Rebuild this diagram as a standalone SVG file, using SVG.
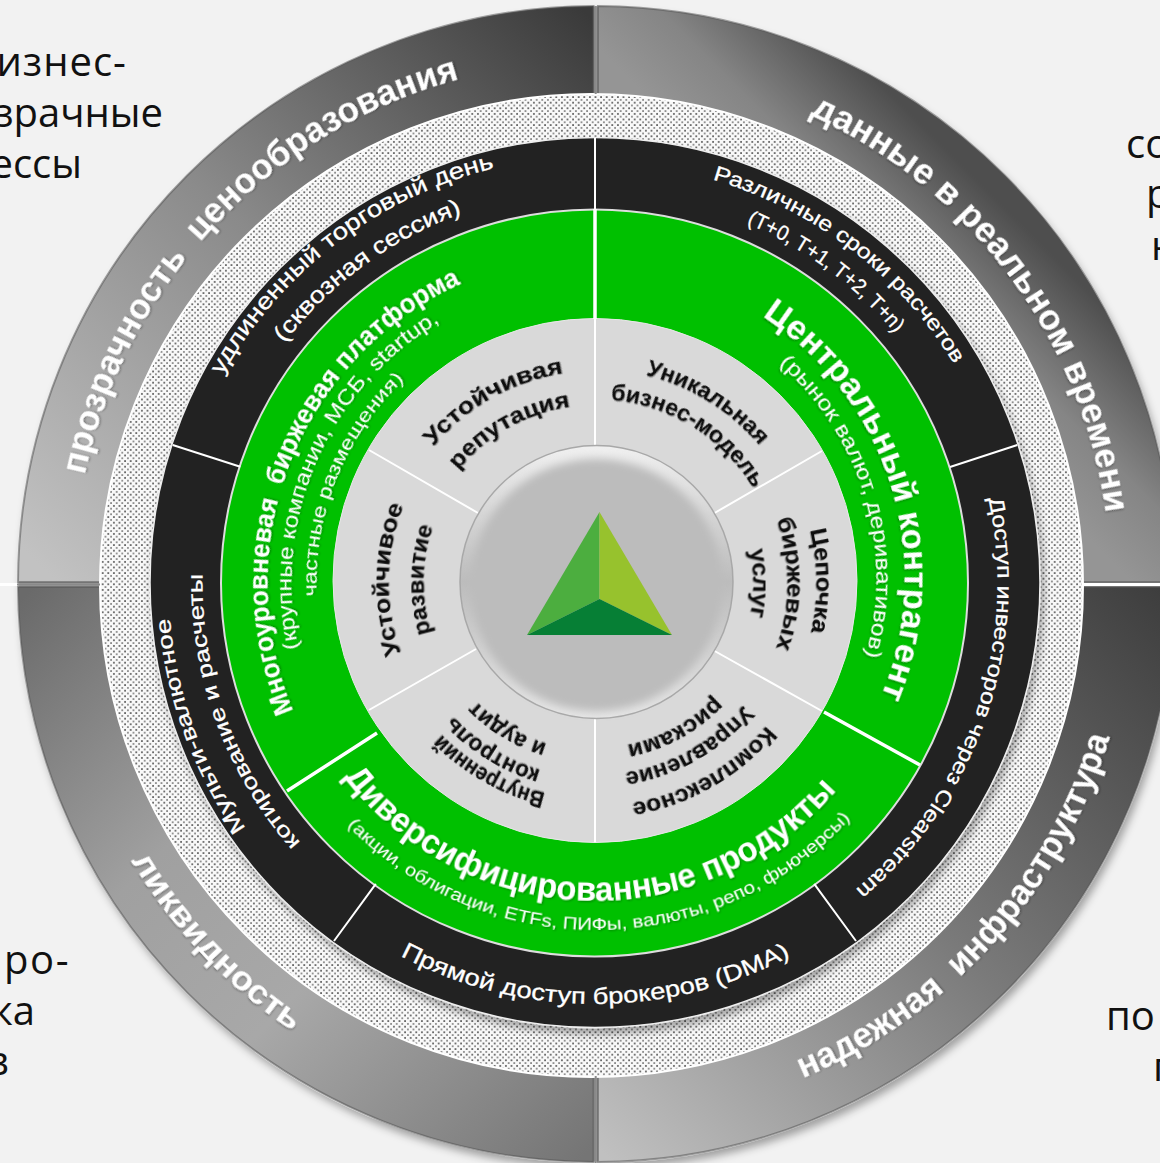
<svg xmlns="http://www.w3.org/2000/svg" width="1160" height="1163" viewBox="0 0 1160 1163">
<style>
text{font-family:"Liberation Sans",Arial,sans-serif;text-anchor:middle}
.bg{font-family:"Open Sans","Noto Sans",sans-serif;font-size:40px;fill:#111}
.e{text-anchor:end}.s{text-anchor:start}
.o{font-weight:700;font-size:35.5px;fill:#fff;filter:url(#ts)}
.k{font-size:23px;fill:#fff;stroke:#fff;stroke-width:.3}
.k2{font-size:21px}
.g1{font-weight:700;font-size:27px;fill:#fff;filter:url(#ts)}
.g2{font-size:21px;fill:#fff;filter:url(#ts)}
.g3{font-weight:700;font-size:34px;fill:#fff;filter:url(#ts)}
.g4{font-size:17.5px;fill:#fff;filter:url(#ts)}
.i{font-weight:700;font-size:23px;fill:#111;filter:url(#ts2)}
.dv{stroke:#fff;fill:none}
</style>
<defs>
<filter id="ts" x="-10%" y="-10%" width="120%" height="120%"><feDropShadow dx="1" dy="1" stdDeviation=".8" flood-color="#000" flood-opacity=".35"/></filter>
<filter id="ts2" x="-10%" y="-10%" width="120%" height="120%"><feDropShadow dx="1" dy="1" stdDeviation=".7" flood-color="#000" flood-opacity=".3"/></filter>
<filter id="sh" x="-10%" y="-10%" width="120%" height="120%"><feDropShadow dx="3" dy="6" stdDeviation="4" flood-color="#000" flood-opacity=".35"/></filter>
<filter id="bl" x="-10%" y="-10%" width="120%" height="120%"><feGaussianBlur stdDeviation="4"/></filter>
<pattern id="dots" width="5.6" height="5.6" patternUnits="userSpaceOnUse"><rect width="5.6" height="5.6" fill="#f9f9f9"/><rect x="1" y="1" width="1.8" height="1.8" fill="#666"/><rect x="3.8" y="3.8" width="1.8" height="1.8" fill="#8a8a8a"/></pattern>
<linearGradient id="qtl" gradientUnits="userSpaceOnUse" x1="60" y1="584" x2="594" y2="20"><stop offset="0" stop-color="#c2c2c2"/><stop offset=".5" stop-color="#8a8a8a"/><stop offset="1" stop-color="#3a3a3a"/></linearGradient>
<linearGradient id="qtr" gradientUnits="userSpaceOnUse" x1="800" y1="250" x2="1000" y2="50"><stop offset="0" stop-color="#959595"/><stop offset=".25" stop-color="#858585"/><stop offset=".62" stop-color="#4e4e4e"/></linearGradient>
<linearGradient id="qbr" gradientUnits="userSpaceOnUse" x1="1160" y1="590" x2="600" y2="1150"><stop offset="0" stop-color="#3e3e3e"/><stop offset=".5" stop-color="#7a7a7a"/><stop offset="1" stop-color="#c0c0c0"/></linearGradient>
<linearGradient id="qbl" gradientUnits="userSpaceOnUse" x1="30" y1="590" x2="590" y2="1150"><stop offset="0" stop-color="#6a6a6a"/><stop offset=".35" stop-color="#a0a0a0"/><stop offset=".6" stop-color="#a8a8a8"/><stop offset="1" stop-color="#757575"/></linearGradient>
<linearGradient id="hub" x1="0" y1="0" x2="0" y2="1"><stop offset="0" stop-color="#f0f0f0"/><stop offset=".5" stop-color="#bcbcbc"/><stop offset="1" stop-color="#e6e6e6"/></linearGradient>
<path id="u522" d="M73.5 583A522 522 0 0 1 1117.5 583"/>
<path id="u515" d="M80.5 583A515 515 0 0 1 1110.5 583"/>
<path id="u427" d="M168.5 583A427 427 0 0 1 1022.5 583"/>
<path id="u420" d="M175.5 583A420 420 0 0 1 1015.5 583"/>
<path id="u402" d="M193.5 583A402 402 0 0 1 997.5 583"/>
<path id="u393" d="M202.5 583A393 393 0 0 1 988.5 583"/>
<path id="u390" d="M205.5 583A390 390 0 0 1 985.5 583"/>
<path id="u328" d="M267.5 583A328 328 0 0 1 923.5 583"/>
<path id="u312" d="M283.5 583A312 312 0 0 1 907.5 583"/>
<path id="u304" d="M291.5 583A304 304 0 0 1 899.5 583"/>
<path id="u284" d="M311.5 583A284 284 0 0 1 879.5 583"/>
<path id="u279" d="M316.5 583A279 279 0 0 1 874.5 583"/>
<path id="u223" d="M372.5 583A223 223 0 0 1 818.5 583"/>
<path id="u221" d="M374.5 583A221 221 0 0 1 816.5 583"/>
<path id="u216" d="M379.5 583A216 216 0 0 1 811.5 583"/>
<path id="u214" d="M381.5 583A214 214 0 0 1 809.5 583"/>
<path id="u212" d="M383.5 583A212 212 0 0 1 807.5 583"/>
<path id="u207" d="M388.5 583A207 207 0 0 1 802.5 583"/>
<path id="u195" d="M400.5 583A195 195 0 0 1 790.5 583"/>
<path id="u192" d="M403.5 583A192 192 0 0 1 787.5 583"/>
<path id="u184" d="M411.5 583A184 184 0 0 1 779.5 583"/>
<path id="u178" d="M417.5 583A178 178 0 0 1 773.5 583"/>
<path id="u172" d="M423.5 583A172 172 0 0 1 767.5 583"/>
<path id="u168" d="M427.5 583A168 168 0 0 1 763.5 583"/>
<path id="u165" d="M430.5 583A165 165 0 0 1 760.5 583"/>
<path id="u158" d="M437.5 583A158 158 0 0 1 753.5 583"/>
<path id="d541" d="M54.5 583A541 541 0 0 0 1136.5 583"/>
<path id="d537" d="M58.5 583A537 537 0 0 0 1132.5 583"/>
<path id="d421" d="M174.5 583A421 421 0 0 0 1016.5 583"/>
<path id="d347" d="M248.5 583A347 347 0 0 0 942.5 583"/>
<path id="d318" d="M277.5 583A318 318 0 0 0 913.5 583"/>
</defs>

<rect width="1160" height="1163" fill="#f2f2f2"/>

<g id="backdrop-text">
<text class="bg e" x="127" y="76" letter-spacing="1">изнес-</text>
<text class="bg e" x="163" y="127">зрачные</text>
<text class="bg e" x="82" y="178">ессы</text>
<text class="bg s" x="1126" y="158">со</text>
<text class="bg s" x="1146" y="208">р</text>
<text class="bg s" x="1151" y="260">н</text>
<text class="bg e" x="70" y="974" letter-spacing="1.5">ро-</text>
<text class="bg e" x="35" y="1025">ка</text>
<text class="bg e" x="9" y="1075">в</text>
<text class="bg s" x="1106" y="1030">по</text>
<text class="bg s" x="1153" y="1081">п</text>
</g>

<circle cx="596" cy="584" r="578" fill="#9a9a9a" filter="url(#sh)"/>
<circle cx="596" cy="584" r="578.5" fill="none" stroke="#eee" stroke-width="1.5"/>

<g id="q-transparency">
<path d="M18 582A578 578 0 0 1 593.5 6L593.5 104A480 480 0 0 0 116 582Z" fill="url(#qtl)" stroke="#555" stroke-opacity=".55" stroke-width="2"/>
<text class="o" transform="rotate(-46.6 595.5 583)"><textPath href="#u522" startOffset="50%" textLength="574" lengthAdjust="spacingAndGlyphs">прозрачность&#160; ценообразования</textPath></text>
</g>
<g id="q-realtime">
<path d="M598 6A578 578 0 0 1 1174 582L1076 582A480 480 0 0 0 598 104Z" fill="url(#qtr)" stroke="#555" stroke-opacity=".55" stroke-width="2"/>
<text class="o" transform="rotate(53.4 595.5 583)"><textPath href="#u515" startOffset="50%" textLength="518" lengthAdjust="spacingAndGlyphs">данные в реальном времени</textPath></text>
</g>
<g id="q-infra">
<path d="M1174 587A578 578 0 0 1 598 1162L598 1064A480 480 0 0 0 1076 587Z" fill="url(#qbr)" stroke="#555" stroke-opacity=".55" stroke-width="2"/>
<text class="o" transform="rotate(-48 595.5 583)"><textPath href="#d537" startOffset="50%" textLength="474" lengthAdjust="spacingAndGlyphs">надежная&#160; инфраструктура</textPath></text>
</g>
<g id="q-liquidity">
<path d="M593.5 1162A578 578 0 0 1 18 587L116 587A480 480 0 0 0 593.5 1064Z" fill="url(#qbl)" stroke="#555" stroke-opacity=".55" stroke-width="2"/>
<text class="o" style="font-size:33px" transform="rotate(46.6 595.5 583)"><textPath href="#d541" startOffset="50%" textLength="237" lengthAdjust="spacingAndGlyphs">ликвидность</textPath></text>
</g>

<g id="rings">
<circle cx="591.5" cy="585.5" r="491.5" fill="url(#dots)" stroke="#fff" stroke-width="2"/>
<circle cx="595" cy="582.5" r="445" fill="#232323" stroke="#eee" stroke-width="1.5" filter="url(#sh)"/>
<circle cx="594.5" cy="583" r="373.5" fill="#00c000" stroke="#ddd" stroke-width="2"/>
<circle cx="595" cy="580.5" r="262" fill="#d9d9d9" stroke="#e8e8e8" stroke-width="1"/>
</g>

<g id="connectors">
<path class="dv" stroke-width="2" d="M595 446V319M712.8 514L821.9 451M712.8 650L821.9 711M595 718V842M476 649L369 710M478 513L369 450"/>
<path class="dv" stroke-width="3.5" d="M595 319V209M824 712L920 765M377 733L287 791"/>
<path class="dv" stroke-width="2" d="M595 209V138M950 467L1017.3 445M814.2 883.8L856 941M375.8 883.8L334 941M240.3 466.7L172.7 445"/>
<path class="dv" stroke-width="3" d="M1083 584.5H1160M0 584.5H17"/>
<path stroke="#8a8a8a" stroke-width="2" d="M100 584.5H17M595.7 6V94M595.7 1076V1163" fill="none"/>
</g>

<g id="b-day">
<text class="k" transform="rotate(-37.3 595.5 583)"><textPath href="#u427" startOffset="50%" textLength="352" lengthAdjust="spacingAndGlyphs">удлиненный торговый день</textPath></text>
<text class="k" transform="rotate(-36.1 595.5 583)"><textPath href="#u393" startOffset="50%" textLength="223" lengthAdjust="spacingAndGlyphs">(сквозная сессия)</textPath></text>
</g>
<g id="b-settle">
<text class="k k2" transform="rotate(37.4 595.5 583)"><textPath href="#u420" startOffset="50%" textLength="311" lengthAdjust="spacingAndGlyphs">Различные сроки расчетов</textPath></text>
<text class="k k2" transform="rotate(36.5 595.5 583)"><textPath href="#u390" startOffset="50%" textLength="187" lengthAdjust="spacingAndGlyphs">(T+0, T+1, T+2, T+n)</textPath></text>
</g>
<g id="b-clear">
<text class="k k2" transform="rotate(108.8 595.5 583)"><textPath href="#u402" startOffset="50%" textLength="434" lengthAdjust="spacingAndGlyphs">Доступ инвесторов через Clearstream</textPath></text>
</g>
<g id="b-dma">
<text class="k" transform="rotate(0 595.5 583)"><textPath href="#d421" startOffset="50%" textLength="406" lengthAdjust="spacingAndGlyphs">Прямой доступ брокеров (DMA)</textPath></text>
</g>
<g id="b-quote">
<text class="k k2" transform="rotate(-109.9 595.5 583)"><textPath href="#u427" startOffset="50%" textLength="226" lengthAdjust="spacingAndGlyphs">Мульти-валютное</textPath></text>
<text class="k k2" transform="rotate(-110 595.5 583)"><textPath href="#u393" startOffset="50%" textLength="293" lengthAdjust="spacingAndGlyphs">котирование и расчеты</textPath></text>
</g>

<g id="g-platform">
<text class="g1" transform="rotate(-68.6 595.5 583)"><textPath href="#u328" startOffset="50%" textLength="508" lengthAdjust="spacingAndGlyphs">Многоуровневая&#160; биржевая платформа</textPath></text>
<text class="g2" transform="rotate(-66.6 595.5 583)"><textPath href="#u304" startOffset="50%" textLength="380" lengthAdjust="spacingAndGlyphs">(крупные компании, МСБ, startup,</textPath></text>
<text class="g2" style="font-size:19px" transform="rotate(-68 595.5 583)"><textPath href="#u279" startOffset="50%" textLength="241" lengthAdjust="spacingAndGlyphs">частные размещения)</textPath></text>
</g>
<g id="g-ccp" transform="translate(-3 -5)">
<text class="g3" transform="rotate(72.6 595.5 583)"><textPath href="#u312" startOffset="50%" textLength="432" lengthAdjust="spacingAndGlyphs">Центральный контрагент</textPath></text>
<text class="g2" transform="rotate(73.5 595.5 583)"><textPath href="#u284" startOffset="50%" textLength="322" lengthAdjust="spacingAndGlyphs">(рынок валют, деривативов)</textPath></text>
</g>
<g id="g-products">
<text class="g3" transform="rotate(1.5 595.5 583)"><textPath href="#d318" startOffset="50%" textLength="564" lengthAdjust="spacingAndGlyphs">Диверсифицированные продукты</textPath></text>
<text class="g4" transform="rotate(-.8 595.5 583)"><textPath href="#d347" startOffset="50%" textLength="563" lengthAdjust="spacingAndGlyphs">(акции, облигации, ETFs, ПИФы, валюты, репо, фьючерсы)</textPath></text>
</g>

<g id="i-reputation">
<text class="i" transform="rotate(-29.4 595.5 583)"><textPath href="#u212" startOffset="50%" textLength="153" lengthAdjust="spacingAndGlyphs">Устойчивая</textPath></text>
<text class="i" transform="rotate(-29.4 595.5 583)"><textPath href="#u178" startOffset="50%" textLength="132" lengthAdjust="spacingAndGlyphs">репутация</textPath></text>
</g>
<g id="i-model">
<text class="i" transform="rotate(31.8 595.5 583)"><textPath href="#u214" startOffset="50%" textLength="136" lengthAdjust="spacingAndGlyphs">Уникальная</textPath></text>
<text class="i" transform="rotate(31.9 595.5 583)"><textPath href="#u184" startOffset="50%" textLength="175" lengthAdjust="spacingAndGlyphs">бизнес-модель</textPath></text>
</g>
<g id="i-chain">
<text class="i" transform="rotate(89.4 595.5 583)"><textPath href="#u221" startOffset="50%" textLength="103" lengthAdjust="spacingAndGlyphs">Цепочка</textPath></text>
<text class="i" transform="rotate(90.2 595.5 583)"><textPath href="#u192" startOffset="50%" textLength="131" lengthAdjust="spacingAndGlyphs">биржевых</textPath></text>
<text class="i" transform="rotate(90 595.5 583)"><textPath href="#u158" startOffset="50%" textLength="67" lengthAdjust="spacingAndGlyphs">услуг</textPath></text>
</g>
<g id="i-risk">
<text class="i" transform="rotate(150.2 595.5 583)"><textPath href="#u223" startOffset="50%" textLength="159" lengthAdjust="spacingAndGlyphs">Комплексное</textPath></text>
<text class="i" transform="rotate(150.3 595.5 583)"><textPath href="#u192" startOffset="50%" textLength="140" lengthAdjust="spacingAndGlyphs">Управление</textPath></text>
<text class="i" transform="rotate(151.3 595.5 583)"><textPath href="#u165" startOffset="50%" textLength="102" lengthAdjust="spacingAndGlyphs">рисками</textPath></text>
</g>
<g id="i-audit">
<text class="i" transform="rotate(209.4 595.5 583)"><textPath href="#u216" startOffset="50%" textLength="121" lengthAdjust="spacingAndGlyphs">Внутренний</textPath></text>
<text class="i" transform="rotate(211.5 595.5 583)"><textPath href="#u195" startOffset="50%" textLength="104" lengthAdjust="spacingAndGlyphs">контроль</textPath></text>
<text class="i" transform="rotate(211 595.5 583)"><textPath href="#u168" startOffset="50%" textLength="84" lengthAdjust="spacingAndGlyphs">и аудит</textPath></text>
</g>
<g id="i-growth">
<text class="i" transform="rotate(271 595.5 583)"><textPath href="#u207" startOffset="50%" textLength="151" lengthAdjust="spacingAndGlyphs">Устойчивое</textPath></text>
<text class="i" transform="rotate(271 595.5 583)"><textPath href="#u172" startOffset="50%" textLength="108" lengthAdjust="spacingAndGlyphs">развитие</textPath></text>
</g>

<g id="hub-node">
<circle cx="596.5" cy="582" r="136.5" fill="url(#hub)" stroke="#a8a8a8" stroke-width="1.5"/>
<circle cx="596.5" cy="585" r="126" fill="#bcbcbc" filter="url(#bl)"/>
<polygon points="599.5,512 527,635 599.5,599" fill="#4cae3f"/>
<polygon points="599.5,512 672,635 599.5,599" fill="#97c22d"/>
<polygon points="599.5,599 527,635 672,635" fill="#067f35"/>
</g>
</svg>
